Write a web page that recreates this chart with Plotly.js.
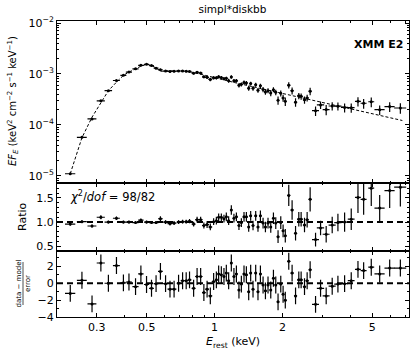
<!DOCTYPE html>
<html>
<head>
<meta charset="utf-8">
<script src="https://cdn.plot.ly/plotly-3.0.1.min.js"></script>
<style>
  html, body { margin: 0; padding: 0; background: #fff; }
  #plotArea { width: 415px; height: 354px; }
</style>
</head>
<body>
<div id="plotArea"></div>
<script>
// spectrum bins (keV) and half widths
var energy = [0.229, 0.258, 0.286, 0.313, 0.338, 0.367, 0.394, 0.417, 0.446, 0.471,
  0.499, 0.525, 0.550, 0.575, 0.606, 0.634, 0.661, 0.692, 0.721, 0.748,
  0.774, 0.807, 0.836, 0.867, 0.896, 0.926, 0.957, 0.990, 1.018, 1.042,
  1.071, 1.100, 1.127, 1.154, 1.186, 1.218, 1.249, 1.282, 1.314, 1.350,
  1.383, 1.416, 1.445, 1.480, 1.521, 1.557, 1.596, 1.640, 1.680, 1.725,
  1.774, 1.823, 1.867, 1.911, 1.965, 2.012, 2.058, 2.132, 2.206, 2.285,
  2.362, 2.419, 2.504, 2.572, 2.652, 2.803, 2.950, 3.124, 3.322, 3.522,
  3.771, 4.035, 4.322, 4.580, 4.951, 5.395, 5.975, 6.663];
var energyErr = [0.012, 0.013, 0.013, 0.013, 0.013, 0.013, 0.012, 0.013, 0.014, 0.013,
  0.013, 0.013, 0.0135, 0.014, 0.015, 0.016, 0.016, 0.0135, 0.014, 0.015,
  0.015, 0.016, 0.016, 0.017, 0.017, 0.018, 0.019, 0.019, 0.013, 0.013,
  0.014, 0.014, 0.014, 0.015, 0.015, 0.016, 0.016, 0.016, 0.017, 0.017,
  0.018, 0.018, 0.018, 0.019, 0.019, 0.020, 0.020, 0.021, 0.021, 0.022,
  0.023, 0.023, 0.024, 0.024, 0.025, 0.026, 0.026, 0.035, 0.036, 0.037,
  0.039, 0.040, 0.041, 0.042, 0.043, 0.10, 0.11, 0.11, 0.12, 0.13,
  0.14, 0.14, 0.13, 0.14, 0.15, 0.28, 0.31, 0.41];

// E F_E data
var flux = [1.1e-5, 5.7e-5, 1.31e-4, 2.97e-4, 4.7e-4, 7.45e-4, 9.4e-4, 1.09e-3, 1.26e-3, 1.48e-3,
  1.55e-3, 1.46e-3, 1.30e-3, 1.21e-3, 1.14e-3, 1.12e-3, 1.13e-3, 1.15e-3, 1.15e-3, 1.13e-3,
  1.12e-3, 1.03e-3, 1.08e-3, 1.04e-3, 8.8e-4, 8.6e-4, 7.8e-4, 8.4e-4, 8.4e-4, 8.8e-4,
  8.5e-4, 8.1e-4, 8.2e-4, 7.4e-4, 8.75e-4, 7.36e-4, 7.38e-4, 6.02e-4, 6.26e-4, 6.83e-4,
  6.66e-4, 5.27e-4, 6.49e-4, 5.22e-4, 6.17e-4, 4.80e-4, 5.88e-4, 4.96e-4, 4.45e-4, 4.71e-4,
  4.21e-4, 4.91e-4, 4.36e-4, 3.04e-4, 4.18e-4, 3.39e-4, 2.90e-4, 6.03e-4, 4.70e-4, 2.80e-4,
  3.72e-4, 3.64e-4, 3.11e-4, 3.39e-4, 4.60e-4, 1.90e-4, 2.47e-4, 2.00e-4, 2.35e-4, 2.33e-4,
  2.20e-4, 2.18e-4, 2.90e-4, 2.66e-4, 2.85e-4, 1.99e-4, 2.29e-4, 2.15e-4];
var fluxErr = [3.9e-7, 1.7e-6, 4.7e-6, 1.1e-5, 1.4e-5, 2.4e-5, 2.8e-5, 3.3e-5, 3.8e-5, 5.0e-5,
  4.7e-5, 4.4e-5, 3.9e-5, 5.7e-5, 4.6e-5, 4.6e-5, 4.6e-5, 4.6e-5, 4.6e-5, 4.5e-5,
  5.0e-5, 5.4e-5, 6.2e-5, 5.9e-5, 5.7e-5, 6.4e-5, 6.1e-5, 5.8e-5, 6.5e-5, 6.4e-5,
  6.2e-5, 6.0e-5, 6.6e-5, 6.5e-5, 7.0e-5, 6.1e-5, 6.0e-5, 5.8e-5, 5.7e-5, 6.2e-5,
  6.0e-5, 5.9e-5, 5.7e-5, 5.6e-5, 5.5e-5, 5.3e-5, 5.7e-5, 5.6e-5, 5.4e-5, 5.3e-5,
  5.6e-5, 5.5e-5, 5.3e-5, 5.6e-5, 5.5e-5, 5.4e-5, 5.6e-5, 8.2e-5, 7.5e-5, 5.4e-5,
  5.3e-5, 5.1e-5, 5.0e-5, 5.2e-5, 7.8e-5, 4.1e-5, 4.2e-5, 4.5e-5, 4.3e-5, 4.2e-5,
  4.4e-5, 4.5e-5, 6.1e-5, 5.8e-5, 6.2e-5, 4.2e-5, 5.0e-5, 5.0e-5];

// data / model
var ratio = [0.96, 1.01, 0.92, 1.10, 1.00, 1.08, 1.00, 1.00, 0.99, 1.04,
  1.00, 0.99, 0.99, 1.07, 1.00, 0.97, 0.98, 1.00, 1.01, 1.01,
  1.02, 0.96, 1.05, 1.05, 0.93, 0.95, 0.90, 1.01, 1.03, 1.10,
  1.10, 1.07, 1.11, 1.03, 1.25, 1.08, 1.11, 0.93, 0.99, 1.11,
  1.11, 0.90, 1.13, 0.93, 1.13, 0.90, 1.13, 0.98, 0.90, 0.98,
  0.90, 1.08, 0.98, 0.70, 0.99, 0.82, 0.72, 1.55, 1.25, 0.77,
  1.06, 1.06, 0.94, 1.05, 1.47, 0.64, 0.88, 0.75, 0.94, 0.99,
  1.00, 1.06, 1.51, 1.47, 1.70, 1.29, 1.65, 1.72];
var ratioErr = [0.035, 0.03, 0.033, 0.04, 0.03, 0.035, 0.03, 0.03, 0.03, 0.035,
  0.03, 0.03, 0.03, 0.05, 0.04, 0.04, 0.04, 0.04, 0.04, 0.04,
  0.045, 0.05, 0.06, 0.06, 0.06, 0.07, 0.07, 0.07, 0.08, 0.08,
  0.08, 0.08, 0.09, 0.09, 0.10, 0.09, 0.09, 0.09, 0.09, 0.10,
  0.10, 0.10, 0.10, 0.10, 0.10, 0.10, 0.11, 0.11, 0.11, 0.11,
  0.12, 0.12, 0.12, 0.13, 0.13, 0.13, 0.14, 0.22, 0.20, 0.15,
  0.15, 0.15, 0.15, 0.16, 0.25, 0.14, 0.15, 0.17, 0.17, 0.18,
  0.20, 0.22, 0.32, 0.32, 0.37, 0.27, 0.36, 0.40];

// (data - model) / error
var delchi = [-1.2, 0.35, -2.45, 2.4, 0.0, 2.1, 0.05, 0.15, -0.4, 1.1,
  -0.15, -0.6, -0.05, 1.4, -0.05, -0.7, -0.7, 0.0, 0.3, 0.3,
  0.4, -0.6, 0.8, 0.8, -1.1, -0.7, -1.5, 0.2, 0.4, 1.1,
  1.0, 0.8, 1.2, 0.3, 2.4, 0.8, 1.1, -0.8, -0.1, 1.1,
  1.0, -1.0, 1.2, -0.7, 1.2, -1.0, 1.1, -0.2, -0.9, -0.2,
  -0.8, 0.6, -0.2, -2.2, -0.1, -1.3, -2.0, 2.6, 1.2, -1.5,
  0.4, 0.4, -0.4, 0.3, 1.6, -2.5, -0.6, -1.5, -0.35, -0.1,
  -0.05, 0.3, 1.65, 1.5, 1.9, 1.1, 1.8, 1.8];

// simpl*diskbb model curve
var modelE = [0.229, 0.258, 0.286, 0.313, 0.338, 0.367, 0.394, 0.417, 0.446, 0.471,
  0.499, 0.525, 0.550, 0.575, 0.634, 0.692, 0.748, 0.807, 0.867, 0.926,
  0.990, 1.1, 1.25, 1.45, 1.7, 2.0, 2.5, 3.0, 4.0, 5.0, 6.0, 6.8];
var modelF = [1.1e-5, 5.6e-5, 1.42e-4, 2.7e-4, 4.7e-4, 6.9e-4, 9.4e-4, 1.09e-3, 1.27e-3, 1.42e-3,
  1.55e-3, 1.47e-3, 1.31e-3, 1.13e-3, 1.15e-3, 1.15e-3, 1.12e-3, 1.07e-3, 9.9e-4, 9.1e-4,
  8.3e-4, 7.55e-4, 6.64e-4, 5.72e-4, 4.88e-4, 4.15e-4, 3.32e-4, 2.77e-4, 2.08e-4, 1.66e-4,
  1.38e-4, 1.22e-4];

var xTicks = [0.3, 0.5, 1, 2, 5];
var xMinor = [0.2, 0.4, 0.6, 0.7, 0.8, 0.9, 3, 4, 6, 7];
var yTicks = [1e-5, 1e-4, 1e-3, 1e-2];
var yTickText = ["10<sup>−5</sup>", "10<sup>−4</sup>", "10<sup>−3</sup>", "10<sup>−2</sup>"];
var yMinor = [];
[1e-6, 1e-5, 1e-4, 1e-3].forEach(function (d) {
  for (var k = 2; k <= 9; k++) yMinor.push(k * d);
});

var font = "DejaVu Sans, sans-serif";
var errStyle = {type: "data", color: "black", thickness: 1.2, width: 0};

var traces = [
  {x: modelE, y: modelF, xaxis: "x", yaxis: "y", mode: "lines",
   line: {color: "black", width: 1, dash: "3px,2px"}, hoverinfo: "skip"},
  {x: energy, y: flux, xaxis: "x", yaxis: "y", mode: "markers", type: "scatter",
   marker: {color: "black", size: 3},
   error_x: Object.assign({array: energyErr}, errStyle),
   error_y: Object.assign({array: fluxErr}, errStyle)},
  {x: energy, y: ratio, xaxis: "x2", yaxis: "y2", mode: "markers", type: "scatter",
   marker: {color: "black", size: 3},
   error_x: Object.assign({array: energyErr}, errStyle),
   error_y: Object.assign({array: ratioErr}, errStyle)},
  {x: energy, y: delchi, xaxis: "x3", yaxis: "y3", mode: "markers", type: "scatter",
   marker: {color: "black", size: 3},
   error_x: Object.assign({array: energyErr}, errStyle),
   error_y: Object.assign({array: energy.map(function () { return 1; })}, errStyle)}
];

function xAxis(anchor, labels) {
  return {
    type: "log", range: [-0.699, 0.862], anchor: anchor, matches: anchor === "y3" ? undefined : "x3",
    showline: true, linecolor: "black", linewidth: 1, mirror: "allticks",
    ticks: "inside", ticklen: 4, tickwidth: 1, tickcolor: "black",
    tickmode: "array", tickvals: xTicks, ticktext: xTicks.map(String),
    showticklabels: labels,
    minor: {ticks: "inside", ticklen: 2, tickcolor: "black", tickmode: "array", tickvals: xMinor},
    showgrid: false, zeroline: false,
    tickfont: {family: font, size: 11, color: "black"}
  };
}

var yBase = {
  showline: true, linecolor: "black", linewidth: 1, mirror: "allticks",
  ticks: "inside", ticklen: 4, tickwidth: 1, tickcolor: "black",
  showgrid: false, zeroline: false,
  tickfont: {family: font, size: 11, color: "black"}
};

// rotated side labels, placed by pixel then converted to paper units
function sideLabel(px, py, text, size) {
  return {xref: "paper", yref: "paper", x: (px - 57) / 352, y: (317 - py) / 296,
    xanchor: "center", yanchor: "middle", textangle: -90, showarrow: false,
    text: text, font: {family: font, size: size}};
}

var layout = {
  width: 415, height: 354,
  margin: {l: 57, r: 6, t: 21, b: 37},
  paper_bgcolor: "white", plot_bgcolor: "white",
  showlegend: false,
  font: {family: font, size: 11, color: "black"},
  title: {text: "simpl*diskbb", font: {family: font, size: 10.5}, x: 0.56, xanchor: "center", y: 0.975, yanchor: "middle"},
  xaxis: xAxis("y", false),
  xaxis2: xAxis("y2", false),
  xaxis3: Object.assign(xAxis("y3", true), {
    title: {text: "<i>E</i><sub>rest</sub> (keV)", font: {family: font, size: 11}, standoff: 4}
  }),
  yaxis: Object.assign({}, yBase, {
    domain: [0.4533, 1], anchor: "x", type: "log", range: [-5.137, -1.96],
    tickmode: "array", tickvals: yTicks, ticktext: yTickText,
    minor: {ticks: "inside", ticklen: 2, tickcolor: "black", tickmode: "array", tickvals: yMinor}
  }),
  yaxis2: Object.assign({}, yBase, {
    domain: [0.2238, 0.4533], anchor: "x2", range: [0.41, 1.81],
    tickmode: "array", tickvals: [0.5, 1, 1.5], ticktext: ["0.5", "1.0", "1.5"],
    minor: {ticks: "inside", ticklen: 2, tickcolor: "black", dtick: 0.1}
  }),
  yaxis3: Object.assign({}, yBase, {
    domain: [0, 0.2238], anchor: "x3", range: [-4, 3.85],
    tickmode: "array", tickvals: [-4, -2, 0, 2], ticktext: ["−4", "−2", "0", "2"],
    minor: {ticks: "inside", ticklen: 2, tickcolor: "black", dtick: 1}
  }),
  shapes: [
    {type: "line", xref: "x2 domain", yref: "y2", x0: 0, x1: 1, y0: 1, y1: 1,
     line: {color: "black", width: 2, dash: "6px,4px"}},
    {type: "line", xref: "x3 domain", yref: "y3", x0: 0, x1: 1, y0: 0, y1: 0,
     line: {color: "black", width: 2, dash: "6px,4px"}},
    // fraction bar of the residual label
    {type: "line", xref: "paper", yref: "paper",
     x0: (23 - 57) / 352, x1: (23 - 57) / 352, y0: (317 - 305) / 296, y1: (317 - 262) / 296,
     line: {color: "black", width: 0.7}}
  ],
  annotations: [
    sideLabel(13, 101, "<i>EF</i><sub><i>E</i></sub> (keV<sup>2</sup> cm<sup>−2</sup> s<sup>−1</sup> keV<sup>−1</sup>)", 10),
    sideLabel(22, 217, "Ratio", 11),
    sideLabel(18.5, 284, "data − model", 7),
    sideLabel(28, 284, "error", 7),
    {xref: "paper", yref: "paper", x: 0.030, y: 0.406, xanchor: "left", showarrow: false,
     text: "<i>χ</i><sup>2</sup>/<i>dof</i> = 98/82", font: {family: font, size: 11.5}},
    {xref: "paper", yref: "paper", x: 0.988, y: 0.949, xanchor: "right", showarrow: false,
     text: "<b>XMM E2</b>", font: {family: font, size: 11}}
  ]
};

Plotly.newPlot("plotArea", traces, layout, {staticPlot: true, displayModeBar: false});
</script>
</body>
</html>
